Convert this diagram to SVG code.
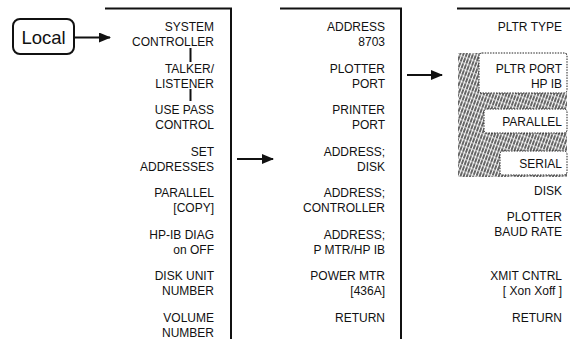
<svg xmlns="http://www.w3.org/2000/svg" width="570" height="339" viewBox="0 0 570 339">
<style>
.t{font-family:"Liberation Sans",Arial,sans-serif;font-size:12px;fill:#111;text-anchor:end}
.ln{stroke:#111;stroke-width:2;fill:none}
.ar{stroke:#111;stroke-width:2;fill:none}
.tick{stroke:#111;stroke-width:2}
.clr{fill:#fff;stroke:#222;stroke-width:1;stroke-dasharray:1.5 1.2}
</style>
<defs>
<marker id="ah" markerWidth="12" markerHeight="10" refX="11" refY="5" orient="auto" markerUnits="userSpaceOnUse">
<path d="M0,0 L12,5 L0,10 Z" fill="#111"/>
</marker>
<pattern id="hatch" width="3" height="6" patternUnits="userSpaceOnUse" patternTransform="rotate(20)">
<line x1="1" y1="0" x2="1" y2="6" stroke="#111" stroke-width="1.3" stroke-dasharray="2.6 0.7"/>
</pattern>
</defs>
<rect width="570" height="339" fill="#fff"/>
<g id="local">
<rect x="13" y="19" width="61" height="35" rx="7" fill="#fff" stroke="#111" stroke-width="2"/>
<text x="43.5" y="44" style="font-family:'Liberation Sans',Arial,sans-serif;font-size:18.5px;fill:#111" text-anchor="middle">Local</text>
</g>
<g id="connectors">
<line class="ar" x1="74" y1="37.5" x2="110" y2="37.5" marker-end="url(#ah)"/>
<line class="ar" x1="237" y1="159" x2="273" y2="159" marker-end="url(#ah)"/>
<line class="ar" x1="407" y1="75" x2="442" y2="75" marker-end="url(#ah)"/>
<line class="tick" x1="190.5" y1="48" x2="190.5" y2="62"/>
<line class="tick" x1="190.5" y1="89" x2="190.5" y2="101"/>
</g>
<g id="column1">
<path class="ln" d="M105,8.5 H231 V339"/>
<text class="t" x="214" y="31">SYSTEM</text>
<text class="t" x="214" y="46">CONTROLLER</text>
<text class="t" x="214" y="72.5">TALKER/</text>
<text class="t" x="214" y="87.5">LISTENER</text>
<text class="t" x="214" y="114">USE PASS</text>
<text class="t" x="214" y="129">CONTROL</text>
<text class="t" x="214" y="155.5">SET</text>
<text class="t" x="214" y="170.5">ADDRESSES</text>
<text class="t" x="214" y="197">PARALLEL</text>
<text class="t" x="214" y="212">[COPY]</text>
<text class="t" x="214" y="238.5">HP-IB DIAG</text>
<text class="t" x="214" y="253.5">on OFF</text>
<text class="t" x="214" y="280">DISK UNIT</text>
<text class="t" x="214" y="295">NUMBER</text>
<text class="t" x="214" y="321.5">VOLUME</text>
<text class="t" x="214" y="336.5">NUMBER</text>
</g>
<g id="column2">
<path class="ln" d="M280,8.5 H401 V339"/>
<text class="t" x="385" y="31">ADDRESS</text>
<text class="t" x="385" y="46">8703</text>
<text class="t" x="385" y="72.5">PLOTTER</text>
<text class="t" x="385" y="87.5">PORT</text>
<text class="t" x="385" y="114">PRINTER</text>
<text class="t" x="385" y="129">PORT</text>
<text class="t" x="385" y="155.5">ADDRESS;</text>
<text class="t" x="385" y="170.5">DISK</text>
<text class="t" x="385" y="197">ADDRESS;</text>
<text class="t" x="385" y="212">CONTROLLER</text>
<text class="t" x="385" y="238.5">ADDRESS;</text>
<text class="t" x="385" y="253.5">P MTR/HP IB</text>
<text class="t" x="385" y="280">POWER MTR</text>
<text class="t" x="385" y="295">[436A]</text>
<text class="t" x="385" y="321.5">RETURN</text>
</g>
<g id="column3">
<path class="ln" d="M457,8.5 H570"/>
<text class="t" x="562" y="31">PLTR TYPE</text>
<rect x="458" y="53" width="109" height="124" fill="url(#hatch)"/>
<rect class="clr" x="479" y="53" width="88" height="40" rx="3"/>
<rect class="clr" x="484" y="109" width="83" height="24" rx="3"/>
<rect class="clr" x="500" y="151" width="67" height="24" rx="3"/>
<text class="t" x="562" y="72.5">PLTR PORT</text>
<text class="t" x="562" y="87.5">HP IB</text>
<text class="t" x="562" y="125.5">PARALLEL</text>
<text class="t" x="562" y="167.5">SERIAL</text>
<text class="t" x="562" y="194.5">DISK</text>
<text class="t" x="562" y="221">PLOTTER</text>
<text class="t" x="562" y="236">BAUD RATE</text>
<text class="t" x="562" y="280">XMIT CNTRL</text>
<text class="t" x="562" y="295">[ Xon Xoff ]</text>
<text class="t" x="562" y="321.5">RETURN</text>
</g>
</svg>
